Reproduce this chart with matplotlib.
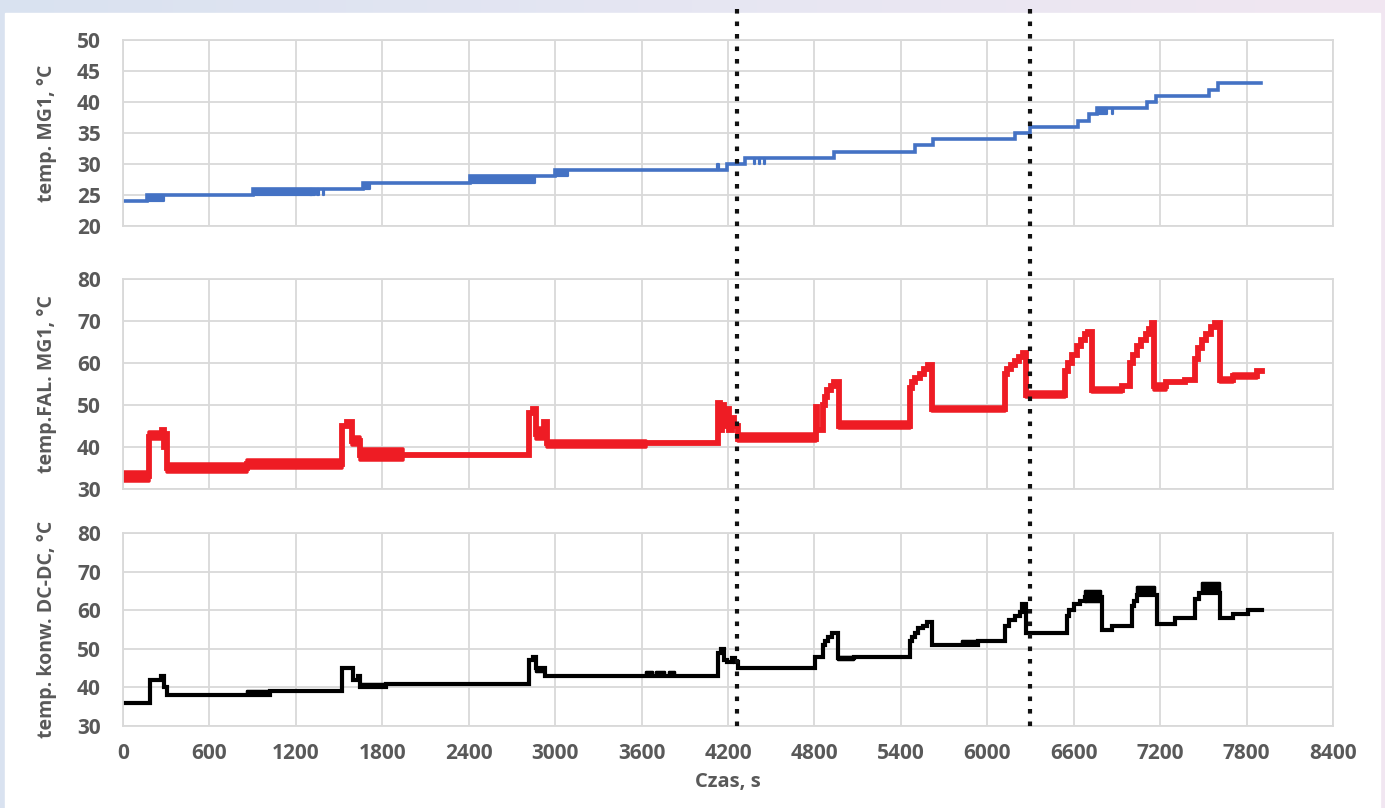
# wykres temperatur MG1 / FAL. MG1 / konw. DC-DC w funkcji czasu

import matplotlib.pyplot as plt
import numpy as np
from matplotlib.patches import Rectangle
from matplotlib.colors import LinearSegmentedColormap
from matplotlib.transforms import blended_transform_factory

# ---- dane ----
# temp. MG1 - schodki (czas, wartosc)
mg1_t = [0, 167, 905, 1667, 2410, 3000, 4195, 4318, 4936, 5496, 5620, 6193, 6293,
         6628, 6705, 6760, 7108, 7170, 7542, 7603, 7900]
mg1_v = [24, 25, 26, 27, 28, 29, 30, 31, 32, 33, 34, 35, 36,
         37, 38, 39, 40, 41, 42, 43, 43]
# szum (pasy) dla MG1
mg1_band_t0 = [167, 905, 1300, 1350, 1385, 1667, 2410, 3000, 4125, 4380, 4412, 4450, 6760, 6865]
mg1_band_t1 = [285, 1330, 1310, 1360, 1395, 1715, 2860, 3090, 4135, 4388, 4420, 4458, 6830, 6875]
mg1_band_lo = [24, 25, 25, 25, 25, 26, 27, 28, 29, 30, 30, 30, 38, 38]
mg1_band_hi = [25, 26, 26, 26, 26, 27, 28, 29, 30, 31, 31, 31, 39, 39]

# temp. FAL. MG1
fal_t = [0, 183, 268, 283, 295, 305, 860, 1518, 1553, 1590, 1645, 1944, 2819, 2845, 2870,
         2925, 2945, 4130, 4145, 4160, 4175, 4190, 4205, 4225, 4240, 4270, 4811, 4820, 4857,
         4870, 4890, 4915, 4935, 4970, 5464, 5480, 5500, 5530, 5560, 5590, 5613, 6123, 6140,
         6165, 6195, 6220, 6245, 6269, 6540, 6560, 6590, 6620, 6650, 6675, 6700, 6730, 6933,
         6990, 7010, 7040, 7070, 7100, 7125, 7145, 7160, 7240, 7373, 7442, 7460, 7490, 7520,
         7555, 7580, 7616, 7708, 7870, 7905]
fal_v = [33, 42.5, 44, 40, 43, 35, 36, 45, 46, 41.5, 38, 38, 48, 49, 43,
         46, 41, 50.5, 44, 50, 45, 49, 44, 47, 45, 42, 49.5, 44, 50,
         52, 53.5, 54.5, 55.5, 45, 54, 55.5, 56.5, 57.5, 58.5, 59.5, 49, 57.5, 58.5,
         59.5, 60.5, 61.5, 62.5, 52.5, 58, 60, 62, 64, 65.5, 67, 67.5, 53.5, 54.5,
         60, 62, 64, 65.5, 67, 68, 69.5, 54.5, 55.5, 56, 61, 63.5, 65.5, 67,
         68.5, 69.5, 56, 57, 58, 58]
fal_band_t0 = [0, 183, 305, 860, 1590, 1645, 2870, 2945, 4270, 4970, 5613, 6269, 6730, 7160, 7616, 7708]
fal_band_t1 = [183, 268, 860, 1518, 1645, 1944, 2925, 3630, 4811, 5464, 6123, 6540, 6933, 7240, 7708, 7870]
fal_band_lo = [32, 42, 34, 35, 40.5, 37, 42, 40, 41.5, 44.5, 48.5, 52, 53, 53.5, 55.5, 56.5]
fal_band_hi = [34, 43.5, 36, 37, 42.5, 39.5, 44.5, 41.5, 43, 46, 49.5, 53, 54, 55, 56.5, 57.5]

# temp. konw. DC-DC
dc_t = [0, 187, 267, 285, 307, 1019, 1518, 1597, 1632, 1645, 1828, 2819, 2845, 2865, 2930,
        4133, 4150, 4175, 4190, 4230, 4245, 4270, 4804, 4857, 4875, 4895, 4925, 4963, 5075,
        5464, 5475, 5500, 5520, 5550, 5578, 5613, 5937, 6123, 6150, 6190, 6225, 6239, 6269,
        6551, 6570, 6600, 6640, 6680, 6793, 6867, 7002, 7020, 7040, 7176, 7300, 7442, 7470,
        7616, 7708, 7812, 7905]
dc_v = [36, 42, 43, 40, 38, 39, 45, 42, 43, 40, 41, 47, 48, 45, 43,
        49, 50, 47, 46.5, 47.5, 46.5, 45, 48, 51, 52, 53, 54, 47.5, 48,
        52, 53, 54, 55.5, 56, 57, 51, 52, 56, 57.5, 58.5, 59.5, 61.5, 54,
        58.5, 60, 61.5, 62.5, 63.5, 55, 56, 61, 62.5, 64, 56.5, 58, 63, 64.5,
        58, 59, 60, 60]
dc_band_t0 = [858, 1645, 2865, 3630, 3700, 3790, 4963, 5822, 6680, 7040, 7488]
dc_band_t1 = [1019, 1828, 2930, 3680, 3760, 3830, 5075, 5937, 6786, 7165, 7616]
dc_band_lo = [38, 40, 44, 43, 43, 43, 47, 51, 62, 64, 64.5]
dc_band_hi = [39, 41, 45, 44, 44, 44, 48, 52, 65, 66, 67]

# znaczniki (linie kropkowane)
marker_t = [4264, 6298]

x_ticks = list(range(0, 8401, 600))

grey = "#595959"
grid_c = "#d9d9d9"
font = "Open Sans"

fig = plt.figure(figsize=(13.85, 8.08), dpi=100)

# tlo z gradientem + biala karta
bg = fig.add_axes([0, 0, 1, 1], zorder=-10)
grad = np.linspace(0, 1, 256).reshape(1, -1)
cmap = LinearSegmentedColormap.from_list("bg", ["#d9e2f0", "#e6e6f3", "#f1e6f1"])
bg.imshow(grad, aspect="auto", cmap=cmap, extent=[0, 1, 0, 1])
bg.add_patch(Rectangle((5 / 1385, 0), 1375 / 1385, 1 - 13 / 808, color="white"))
bg.set_xlim(0, 1)
bg.set_ylim(0, 1)
bg.axis("off")

ax1 = fig.add_axes([0.0888, 0.7203, 0.8737, 0.2302])
ax2 = fig.add_axes([0.0888, 0.3948, 0.8737, 0.2599])
ax3 = fig.add_axes([0.0888, 0.1015, 0.8737, 0.2388])


def draw_panel(ax, t, v, b0, b1, blo, bhi, color, lw, ylim, ystep, label):
    ax.plot(t, v, drawstyle="steps-post", color=color, linewidth=lw, solid_joinstyle="miter")
    for a, b, lo, hi in zip(b0, b1, blo, bhi):
        ax.fill_between([a, b], [lo, lo], [hi, hi], color=color, linewidth=lw * 0.6)
    ax.set_xlim(0, 8400)
    ax.set_ylim(*ylim)
    ax.set_xticks(x_ticks)
    ax.set_yticks(np.arange(ylim[0], ylim[1] + 1, ystep))
    ax.grid(True, color=grid_c, linewidth=1.3)
    ax.set_axisbelow(True)
    for s in ax.spines.values():
        s.set_color(grid_c)
        s.set_linewidth(1.3)
    ax.tick_params(length=0, pad=16, labelcolor=grey)
    for lab in ax.get_yticklabels() + ax.get_xticklabels():
        lab.set_fontfamily(font)
        lab.set_fontweight("bold")
        lab.set_fontsize(15)
    ax.set_ylabel(label, fontsize=14, fontweight="bold", color=grey, family=font, labelpad=14)


draw_panel(ax1, mg1_t, mg1_v, mg1_band_t0, mg1_band_t1, mg1_band_lo, mg1_band_hi,
           "#4472c4", 2.6, (20, 50), 5, "temp. MG1, °C")
draw_panel(ax2, fal_t, fal_v, fal_band_t0, fal_band_t1, fal_band_lo, fal_band_hi,
           "#ee1c24", 4.2, (30, 80), 10, "temp.FAL. MG1, °C")
draw_panel(ax3, dc_t, dc_v, dc_band_t0, dc_band_t1, dc_band_lo, dc_band_hi,
           "black", 3.0, (30, 80), 10, "temp. konw. DC-DC, °C")

ax1.tick_params(labelbottom=False)
ax2.tick_params(labelbottom=False)
ax3.tick_params(axis="x", pad=12)
ax3.set_xlabel("Czas, s", fontsize=14.5, fontweight="bold", color=grey, family=font, labelpad=6)

# wyrownanie etykiet osi y
fig.align_ylabels([ax1, ax2, ax3])

# linie kropkowane przez wszystkie panele
tr = blended_transform_factory(ax3.transData, fig.transFigure)
for m in marker_t:
    fig.add_artist(plt.Line2D([m, m], [1 - 9 / 808, 1 - 734 / 808], transform=tr,
                              color="#111111", linewidth=3.0, linestyle=(0, (1.1, 1.9)),
                              dash_capstyle="butt", zorder=20))

fig.savefig("out.png", dpi=100)
